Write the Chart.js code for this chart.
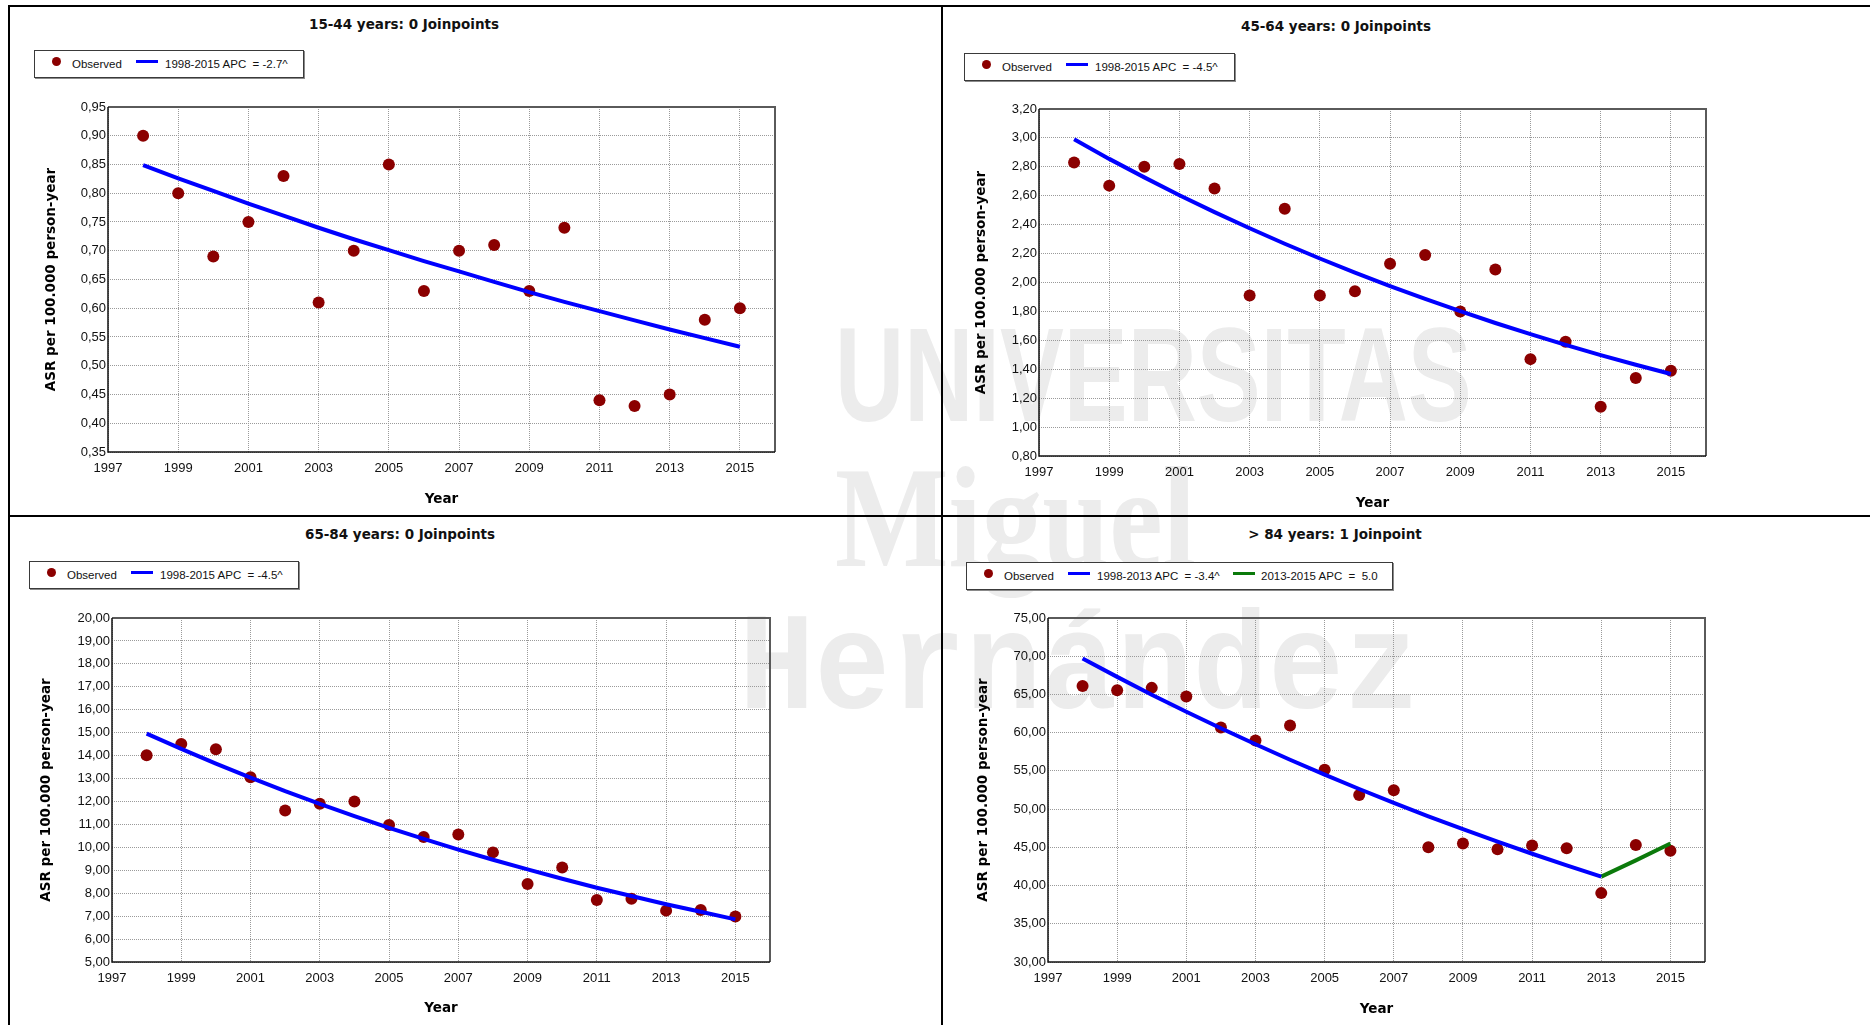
<!DOCTYPE html>
<html>
<head>
<meta charset="utf-8">
<script src="https://cdn.jsdelivr.net/npm/chart.js@4"></script>
<style>
  body { margin: 0; width: 1870px; height: 1025px; background: #fff; position: relative; overflow: hidden; }
  .rule { position: absolute; background: #000; z-index: 3; }
  .wm { position: absolute; color: #ececec; white-space: nowrap; transform-origin: 0 0; line-height: 1; z-index: 0; }
  canvas { position: absolute; z-index: 1; }
  .ttl { position: absolute; width: 400px; text-align: center; font: bold 13.5px "DejaVu Sans"; line-height: 16px; color: #111; z-index: 2; }
  .lg { position: absolute; height: 26px; border: 1px solid #3a3a3a; box-shadow: 1px 1px 0 #8a8a8a; background: #fff; z-index: 2;
        font: 11.5px "Liberation Sans"; color: #111; }
  .lg span { position: absolute; top: 0; line-height: 26px; white-space: pre; }
  .lg i { position: absolute; display: block; }
  .lg .dot { width: 9px; height: 9px; border-radius: 50%; background: #8b0000; top: 5.5px; left: 16.5px; }
  .lg .ln { width: 22px; height: 3px; top: 8.5px; }
</style>
</head>
<body>

<div class="wm" style="left:835px;top:299px;font:bold 133px 'Liberation Sans';transform:scaleX(0.72)">UNIVERSITAS</div>
<div class="wm" style="left:835px;top:434px;font:bold 145px 'Liberation Serif';transform:scaleX(0.83)">Miguel</div>
<div class="wm" style="left:739px;top:591px;font:bold 140px 'Liberation Mono';transform:scaleX(0.9)">Hernández</div>

<div class="rule" style="left:8px;top:5px;width:1862px;height:2px"></div>
<div class="rule" style="left:8px;top:5px;width:2px;height:1020px"></div>
<div class="rule" style="left:941px;top:5px;width:2px;height:1020px"></div>
<div class="rule" style="left:8px;top:515px;width:1862px;height:2px"></div>

<div class="ttl" style="left:204px;top:16px">15-44 years: 0 Joinpoints</div>
<div class="ttl" style="left:1136px;top:18px">45-64 years: 0 Joinpoints</div>
<div class="ttl" style="left:200px;top:526px">65-84 years: 0 Joinpoints</div>
<div class="ttl" style="left:1135px;top:526px">&gt; 84 years: 1 Joinpoint</div>

<div class="lg" style="left:34px;top:50px;width:268px">
  <i class="dot"></i><span style="left:37px">Observed</span>
  <i class="ln" style="left:101px;background:#0000ff"></i><span style="left:130px">1998-2015 APC  = -2.7^</span>
</div>
<div class="lg" style="left:964px;top:53px;width:269px">
  <i class="dot"></i><span style="left:37px">Observed</span>
  <i class="ln" style="left:101px;background:#0000ff"></i><span style="left:130px">1998-2015 APC  = -4.5^</span>
</div>
<div class="lg" style="left:29px;top:561px;width:268px">
  <i class="dot"></i><span style="left:37px">Observed</span>
  <i class="ln" style="left:101px;background:#0000ff"></i><span style="left:130px">1998-2015 APC  = -4.5^</span>
</div>
<div class="lg" style="left:966px;top:562px;width:425px">
  <i class="dot"></i><span style="left:37px">Observed</span>
  <i class="ln" style="left:101px;background:#0000ff"></i><span style="left:130px">1998-2013 APC  = -3.4^</span>
  <i class="ln" style="left:266px;background:#0b7a0b"></i><span style="left:294px">2013-2015 APC  =  5.0</span>
</div>

<canvas id="c1"></canvas>
<canvas id="c2"></canvas>
<canvas id="c3"></canvas>
<canvas id="c4"></canvas>

<script>
const years = [1998, 1999, 2000, 2001, 2002, 2003, 2004, 2005, 2006, 2007, 2008, 2009, 2010, 2011, 2012, 2013, 2014, 2015];
const xTicks = [1997, 1999, 2001, 2003, 2005, 2007, 2009, 2011, 2013, 2015];
const xRange = [1997, 2016];

// 15-44 years
const obs15_44 = [0.90, 0.80, 0.69, 0.75, 0.83, 0.61, 0.70, 0.85, 0.63, 0.70, 0.71, 0.63, 0.74, 0.44, 0.43, 0.45, 0.58, 0.60];
const fit15_44 = [0.849, 0.826, 0.804, 0.782, 0.761, 0.740, 0.720, 0.701, 0.682, 0.664, 0.646, 0.628, 0.611, 0.595, 0.579, 0.563, 0.548, 0.533];
const yTicks15_44 = [0.35, 0.40, 0.45, 0.50, 0.55, 0.60, 0.65, 0.70, 0.75, 0.80, 0.85, 0.90, 0.95];

// 45-64 years
const obs45_64 = [2.83, 2.67, 2.80, 2.82, 2.65, 1.91, 2.51, 1.91, 1.94, 2.13, 2.19, 1.80, 2.09, 1.47, 1.59, 1.14, 1.34, 1.39];
const fit45_64 = [2.99, 2.855, 2.727, 2.604, 2.487, 2.375, 2.268, 2.166, 2.068, 1.975, 1.886, 1.802, 1.720, 1.643, 1.569, 1.498, 1.431, 1.367];
const yTicks45_64 = [0.80, 1.00, 1.20, 1.40, 1.60, 1.80, 2.00, 2.20, 2.40, 2.60, 2.80, 3.00, 3.20];

// 65-84 years
const obs65_84 = [14.02, 14.51, 14.28, 13.06, 11.61, 11.90, 12.00, 10.97, 10.45, 10.56, 9.78, 8.40, 9.12, 7.70, 7.76, 7.24, 7.27, 6.98];
const fit65_84 = [14.96, 14.29, 13.65, 13.04, 12.45, 11.90, 11.36, 10.85, 10.37, 9.90, 9.46, 9.04, 8.63, 8.24, 7.88, 7.52, 7.19, 6.86];
const yTicks65_84 = [5, 6, 7, 8, 9, 10, 11, 12, 13, 14, 15, 16, 17, 18, 19, 20];

// > 84 years (joinpoint at 2013)
const obs85 = [66.12, 65.56, 65.86, 64.73, 60.68, 58.99, 60.94, 55.16, 51.85, 52.46, 45.02, 45.50, 44.76, 45.23, 44.89, 39.01, 45.32, 44.54];
const fit85a = [69.70, 67.30, 64.97, 62.73, 60.57, 58.48, 56.46, 54.51, 52.63, 50.82, 49.06, 47.37, 45.74, 44.16, 42.64, 41.17];
const fit85b = [41.17, 43.3, 45.5];
const yTicks85 = [30, 35, 40, 45, 50, 55, 60, 65, 70, 75];

const pts = (xs, ys) => ys.map((y, i) => ({ x: xs[i], y: y }));

const tickFont = { family: 'Liberation Sans', size: 13 };
const axisTitleFont = { family: 'DejaVu Sans', size: 13.5, weight: 'bold' };
const lh = 13.5 * 1.2;

// frame around the plot area
const frame = {
  id: 'frame',
  beforeDatasetsDraw(chart) {
    const { ctx, chartArea: a } = chart;
    ctx.save();
    ctx.lineWidth = 2;
    ctx.strokeStyle = '#5a5a5a';
    ctx.beginPath();
    ctx.moveTo(a.left, a.top); ctx.lineTo(a.right, a.top); ctx.lineTo(a.right, a.bottom);
    ctx.stroke();
    ctx.lineWidth = 1.5;
    ctx.strokeStyle = '#111';
    ctx.beginPath();
    ctx.moveTo(a.left, a.top); ctx.lineTo(a.left, a.bottom); ctx.lineTo(a.right, a.bottom);
    ctx.stroke();
    ctx.restore();
  }
};

function observed(vals) {
  return { data: pts(years, vals), showLine: false, pointRadius: 6, pointBackgroundColor: '#8b0000', pointBorderWidth: 0, order: 1 };
}
function fitted(xs, vals, color) {
  return { data: pts(xs, vals), showLine: true, borderColor: color, borderWidth: 4, pointRadius: 0, order: 0 };
}

// box = canvas [left, top, width, height]; plot = [left, right, top, bottom]; all in page px
function panel(id, box, plot, yTitleX, xTitleY, yTicks, datasets) {
  const cv = document.getElementById(id);
  cv.style.left = box[0] + 'px';
  cv.style.top = box[1] + 'px';
  cv.width = box[2];
  cv.height = box[3];
  const padLeft = yTitleX - box[0] - lh / 2;
  const xBottom = xTitleY + lh / 2;
  new Chart(cv, {
    type: 'scatter',
    data: { datasets: datasets },
    options: {
      responsive: false,
      animation: false,
      layout: { padding: { left: padLeft, top: plot[2] - box[1], right: box[0] + box[2] - plot[1], bottom: box[1] + box[3] - xBottom } },
      plugins: { legend: { display: false }, tooltip: { enabled: false } },
      scales: {
        x: {
          type: 'linear', min: xRange[0], max: xRange[1],
          afterBuildTicks: s => { s.ticks = xTicks.map(v => ({ value: v })); },
          afterFit: s => { s.height = xBottom - plot[3]; },
          ticks: { padding: 9, font: tickFont, color: '#111', maxRotation: 0, callback: v => String(v) },
          grid: { color: '#9a9a9a', drawTicks: false },
          border: { display: false, dash: [1, 1] },
          title: { display: true, text: 'Year', font: axisTitleFont, color: '#000', padding: 0 }
        },
        y: {
          type: 'linear', min: yTicks[0], max: yTicks[yTicks.length - 1],
          afterBuildTicks: s => { s.ticks = yTicks.map(v => ({ value: v })); },
          afterFit: s => { s.width = plot[0] - box[0] - padLeft; },
          ticks: { padding: 2, font: tickFont, color: '#111', callback: v => v.toFixed(2).replace('.', ',') },
          grid: { color: '#9a9a9a', drawTicks: false },
          border: { display: false, dash: [1, 1] },
          title: { display: true, text: 'ASR per 100.000 person-year', font: axisTitleFont, color: '#000', padding: 0 }
        }
      }
    },
    plugins: [frame]
  });
}

panel('c1', [12, 88, 928, 427], [108, 775, 107, 452], 51.5, 499, yTicks15_44,
  [fitted(years, fit15_44, '#0000ff'), observed(obs15_44)]);
panel('c2', [944, 88, 926, 427], [1039, 1706, 109, 456], 981, 503.3, yTicks45_64,
  [fitted(years, fit45_64, '#0000ff'), observed(obs45_64)]);
panel('c3', [12, 598, 928, 427], [112, 770, 618, 962], 46.5, 1008.7, yTicks65_84,
  [fitted(years, fit65_84, '#0000ff'), observed(obs65_84)]);
panel('c4', [944, 598, 926, 427], [1048, 1705, 618, 962], 983, 1009.3, yTicks85,
  [fitted(years.slice(0, 16), fit85a, '#0000ff'), fitted(years.slice(15), fit85b, '#0b7a0b'), observed(obs85)]);
</script>
</body>
</html>
